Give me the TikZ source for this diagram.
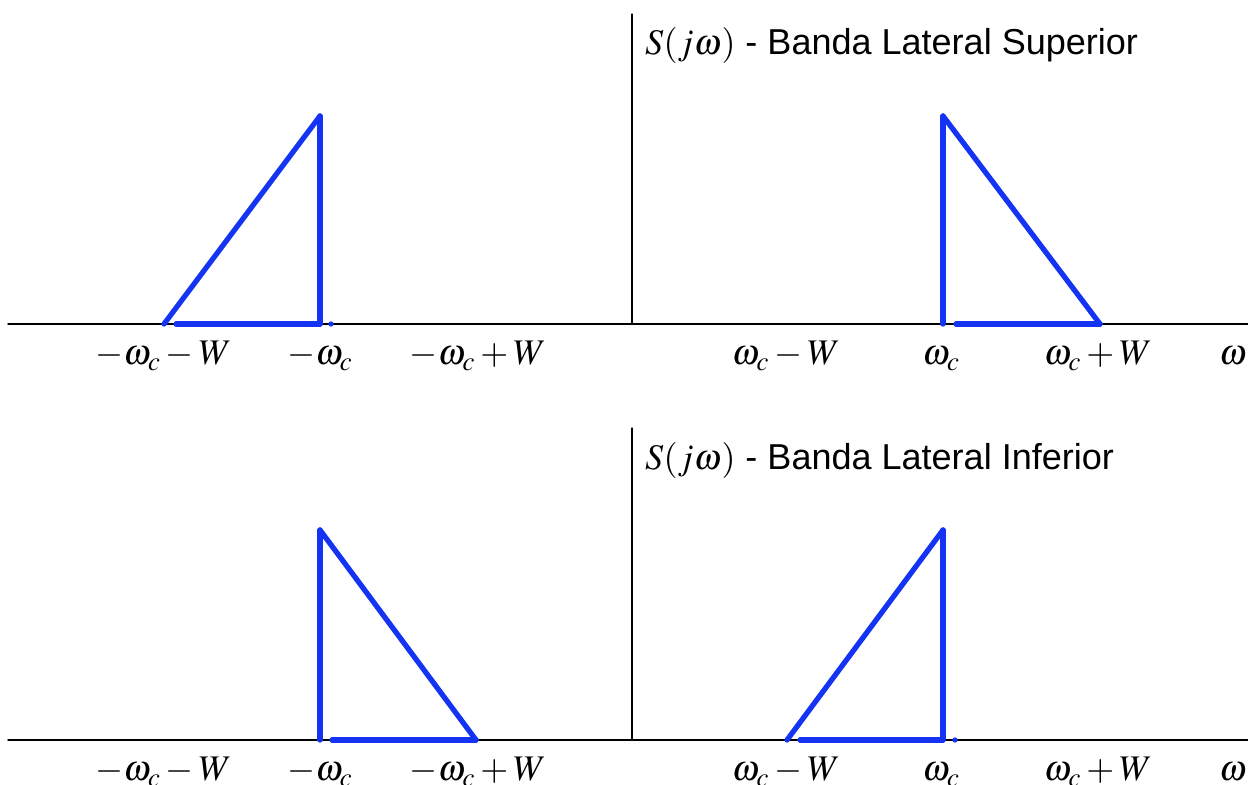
\documentclass[tikz,border=0pt]{standalone}
\usepackage{mathptmx}
\usepackage[no-math]{fontspec}
\setmainfont{Liberation Sans}
\usepackage{tkz-euclide}
\definecolor{SpecClr}{rgb}{0.08,0.2,0.95}

\begin{document}
\begin{tikzpicture}[font=\fontsize{20.5}{24}\selectfont]
\useasboundingbox (0,0) rectangle (24.96,15.7);
\tkzSetUpLine[line width=3pt,color=SpecClr,line cap=round]

% axes
\tkzDefPoints{0.16/9.22/La,24.96/9.22/Ra,12.64/9.22/Ob,12.64/15.42/Tb,
  0.16/0.9/Lc,24.96/0.9/Rc,12.64/0.9/Od,12.64/7.14/Td}
\tkzDrawSegments[line width=0.8pt,color=black](La,Ra Lc,Rc)
\tkzDrawSegments[line width=0.6pt,color=black](Ob,Tb Od,Td)

% banda lateral superior
\tkzDefPoints{3.28/9.22/A,3.52/9.22/A',6.4/9.22/B,6.4/13.38/C,
  18.86/9.22/D,19.12/9.22/D',18.86/13.38/E,22.0/9.22/F}
\tkzDrawSegments(A,C C,B A',B)
\tkzDrawSegments(D,E E,F D',F)

% banda lateral inferior
\tkzDefPoints{6.4/0.9/G,6.64/0.9/G',6.4/5.1/H,9.52/0.9/I,
  15.74/0.9/J,16.0/0.9/J',18.86/5.1/K,18.86/0.9/L}
\tkzDrawSegments(G,H H,I G',I)
\tkzDrawSegments(J,K K,L J',L)

\tkzDefPoints{6.62/9.22/P,19.1/0.9/Q}
\fill[SpecClr] (P) circle (1.5pt) (Q) circle (1.5pt);

% titles
\node[anchor=base west] (sup) at (12.78,14.6) {$S(j\omega)$ - Banda Lateral Superior};
\node[anchor=base west] (inf) at (12.78,6.3) {$S(j\omega)$ - Banda Lateral Inferior};

% frequency labels
\foreach \yy/\nm in {8.4/t,0.08/b}{
  \node[anchor=base] (\nm1) at (3.27,\yy) {$-\omega_c-W$};
  \node[anchor=base] (\nm2) at (6.4,\yy) {$-\omega_c$};
  \node[anchor=base] (\nm3) at (9.56,\yy) {$-\omega_c+W$};
  \node[anchor=base] (\nm4) at (15.72,\yy) {$\omega_c-W$};
  \node[anchor=base] (\nm5) at (18.82,\yy) {$\omega_c$};
  \node[anchor=base] (\nm6) at (21.96,\yy) {$\omega_c+W$};
  \node[anchor=base] (\nm7) at (24.66,\yy) {$\omega$};
}

\end{tikzpicture}
\end{document}
